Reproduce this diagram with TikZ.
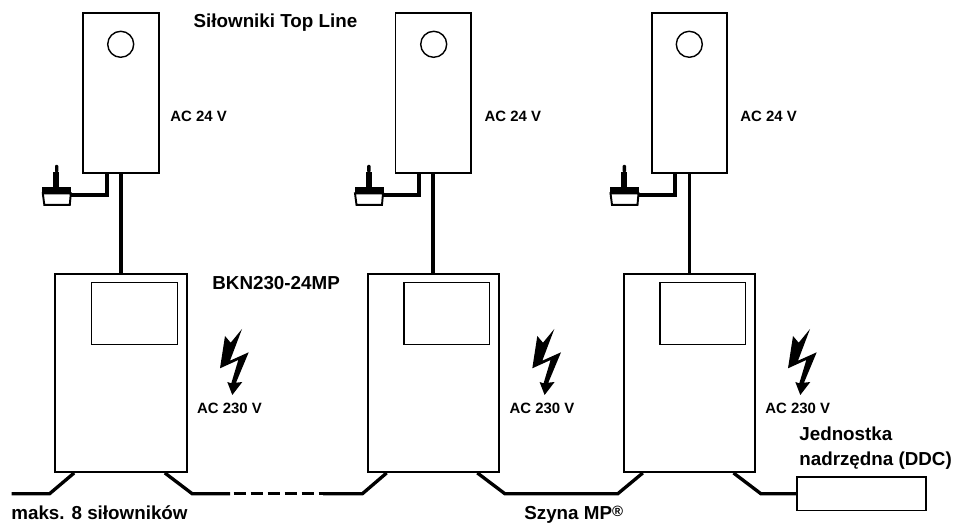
\documentclass[tikz,border=0pt]{standalone}
\usepackage{fontspec}
\setmainfont{Liberation Sans}
\usetikzlibrary{calc}
\tikzset{
	actuator/.style={draw,line width=1.1pt,inner sep=0pt,minimum width=1.514cm,minimum height=3.206cm},
	knob/.style={draw,circle,line width=0.8pt,inner sep=0pt,minimum size=0.52cm},
	trafo/.style={draw,line width=1.1pt,inner sep=0pt,minimum width=2.63cm,minimum height=3.96cm},
	screen/.style={draw,line width=0.7pt,inner sep=0pt,minimum width=1.714cm,minimum height=1.25cm},
	ddcbox/.style={draw,line width=1.1pt,inner sep=0pt,minimum width=2.58cm,minimum height=0.668cm},
	cable/.style={line width=2.2pt},
	bus/.style={line width=1.9pt},
	smalltext/.style={anchor=base west,inner sep=0pt,font=\bfseries\fontsize{8.5pt}{10pt}\selectfont},
	bigtext/.style={anchor=base west,inner sep=0pt,font=\bfseries\fontsize{10.7pt}{13pt}\selectfont},
	sensor/.pic={
		\fill (0,0) rectangle (29,6);
		\fill (11,0) rectangle (17,-15.6);
		\fill[rounded corners=0.5pt] (12.7,-15) rectangle (16,-22.3);
		\draw[line width=1.1pt] (0.5,6) -- (28.5,6) -- (27.5,17.5) -- (2,17.5) -- cycle;
		\coordinate (-out) at (28.5,7.7);
	},
	bolt/.pic={
		\fill (0,0) -- (-12,31.7) -- (6.7,23.3) -- (-6,53.7) -- (0.3,53) -- (-9.7,66) -- (-14.7,53) -- (-10.7,54.3) -- (-3.7,31) -- (-22,39.3) -- (-17,7) -- (-11.3,13.7) -- cycle;
	}
}
\begin{document}
\begin{tikzpicture}[x=0.02cm,y=-0.02cm]
	\useasboundingbox (0,0) rectangle (957,523);
	% actuators
	\node (act1) [actuator] at (120.85,92.85) {};
	\node (act2) [actuator] at (433.35,92.85) {};
	\node (act3) [actuator] at (689.5,92.85) {};
	\node (knob1) [knob] at (120.7,44.3) {};
	\node (knob2) [knob] at (433.7,44.3) {};
	\node (knob3) [knob] at (689.3,44.3) {};
	% transformers
	\node (trafo1) [trafo] at (120.85,373) {};
	\node (trafo2) [trafo] at (433.35,373) {};
	\node (trafo3) [trafo] at (689.5,373) {};
	\node (screen1) [screen] at (134.5,313.5) {};
	\node (screen2) [screen] at (446.85,313.5) {};
	\node (screen3) [screen] at (702.85,313.5) {};
	\draw[cable] (act1.south) -- (trafo1.north);
	\draw[cable] (act2.south) -- (trafo2.north);
	\draw[cable] (act3.south) -- (trafo3.north);
	% sensors
	\pic (sens1) at (42.3,187.3) {sensor};
	\pic (sens2) at (354.5,187.3) {sensor};
	\pic (sens3) at (610,187.3) {sensor};
	\draw[cable] (sens1-out) -| ($(act1.south west)+(24.7,0)$);
	\draw[cable] (sens2-out) -| ($(act2.south west)+(24.7,0)$);
	\draw[cable] (sens3-out) -| ($(act3.south west)+(24.7,0)$);
	% bus
	\node (ddc) [ddcbox] at (861.2,493.8) {};
	\coordinate (busstart) at (11.5,493.8);
	\draw[bus] (busstart) -- (49.5,493.8) -- ($(trafo1.south west)+(20,0)$);
	\draw[bus] ($(trafo1.south west)+(110.7,0)$) -- (192.3,493.8) -- (230,493.8);
	\draw[bus,dash pattern=on 7.3pt off 2.4pt] (233.5,493.8) -- (323,493.8);
	\draw[bus] (323,493.8) -- (362.3,493.8) -- ($(trafo2.south west)+(20,0)$);
	\draw[bus] ($(trafo2.south west)+(110.7,0)$) -- (505,493.8) -- (617.7,493.8) -- ($(trafo3.south west)+(20,0)$);
	\draw[bus] ($(trafo3.south west)+(110.7,0)$) -- (761,493.8) -- (ddc.west);
	% lightning
	\pic (bolt1) at (242,329) {bolt};
	\pic (bolt2) at (554.3,329) {bolt};
	\pic (bolt3) at (810,329) {bolt};
	% labels
	\node (toplabel) [bigtext] at (193.3,28) {Siłowniki Top Line};
	\node (ac24a) [smalltext] at (170,121.5) {AC 24 V};
	\node (ac24b) [smalltext] at (484.3,121.5) {AC 24 V};
	\node (ac24c) [smalltext] at (740,121.5) {AC 24 V};
	\node (trafolabel) [bigtext] at (212,290) {BKN230-24MP};
	\node (ac230a) [smalltext] at (196.7,414) {AC 230 V};
	\node (ac230b) [smalltext] at (509.3,414) {AC 230 V};
	\node (ac230c) [smalltext] at (765,414) {AC 230 V};
	\node (ddctop) [bigtext] at (799,440) {Jednostka};
	\node (ddcbottom) [bigtext] at (799,465) {nadrzędna (DDC)};
	\node (maxlabel) [bigtext] at (11,519.3) {maks. 8 siłowników};
	\node (buslabel) [bigtext] at (524,519.3) {Szyna MP\raisebox{1.5pt}{\fontsize{8.5pt}{8.5pt}\selectfont ®}};
\end{tikzpicture}
\end{document}
